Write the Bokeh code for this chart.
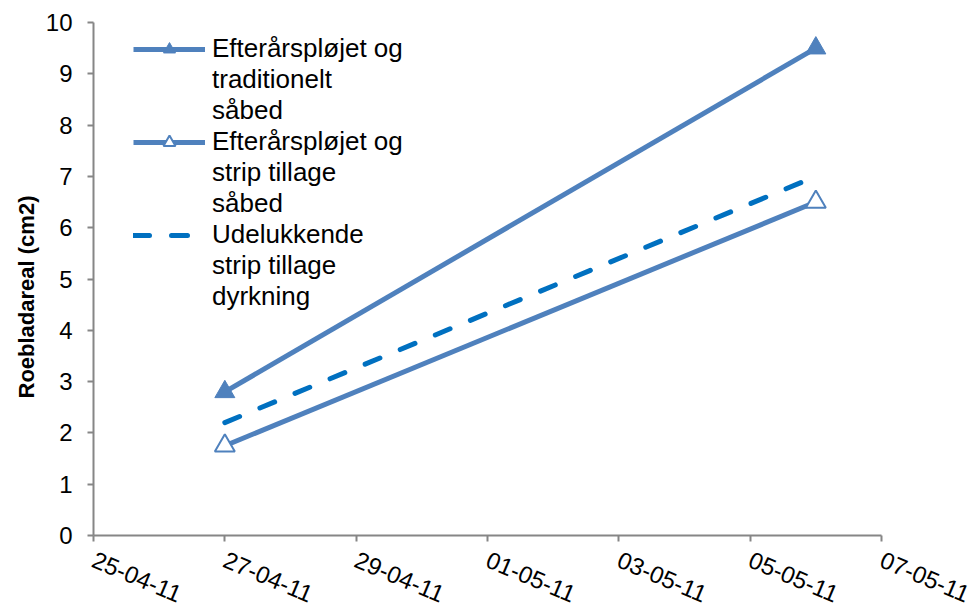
import pandas as pd
from bokeh.plotting import figure
from bokeh.models import (Range1d, FixedTicker, DatetimeTickFormatter, Legend,
                          LegendItem, Title)
from bokeh.embed import file_html
from bokeh.resources import INLINE

# Measurement dates and leaf area (cm2) per treatment
dates = ["2011-04-27", "2011-05-06"]
traditionel_saabed = [2.8, 9.5]
strip_saabed = [1.75, 6.5]
strip_dyrkning = [2.2, 7.0]

tick_dates = ["2011-04-25", "2011-04-27", "2011-04-29", "2011-05-01",
              "2011-05-03", "2011-05-05", "2011-05-07"]
y_ticks = [0, 1, 2, 3, 4, 5, 6, 7, 8, 9, 10]

series_labels = [
    ["Efterårspløjet og", "traditionelt", "såbed"],
    ["Efterårspløjet og", "strip tillage", "såbed"],
    ["Udelukkende", "strip tillage", "dyrkning"],
]

x = pd.to_datetime(dates)
tick_ms = [pd.Timestamp(d).value // 10**6 for d in tick_dates]

BLUE = "#4F81BD"
DARK_BLUE = "#0070C0"
AXIS_GREY = "#868686"
FONT = "Liberation Sans"

p = figure(width=975, height=615, x_axis_type="datetime",
           output_backend="svg", toolbar_location=None,
           x_range=Range1d(pd.Timestamp(tick_dates[0]), pd.Timestamp(tick_dates[-1])),
           y_range=Range1d(y_ticks[0], y_ticks[-1]),
           min_border_left=93, min_border_right=94,
           min_border_top=22, min_border_bottom=80)
p.outline_line_color = None
p.grid.visible = False
p.background_fill_color = "white"
p.border_fill_color = "white"

for ax in (p.xaxis[0], p.yaxis[0]):
    ax.axis_line_color = AXIS_GREY
    ax.axis_line_width = 2
    ax.major_tick_line_color = AXIS_GREY
    ax.major_tick_line_width = 2
    ax.major_tick_in = 0
    ax.major_tick_out = 6
    ax.minor_tick_line_color = None
    ax.major_label_text_font = FONT
    ax.major_label_text_font_size = "24px"
    ax.major_label_text_color = "black"

xa = p.xaxis[0]
xa.ticker = FixedTicker(ticks=tick_ms)
fmt = "%d-%m-%y"
xa.formatter = DatetimeTickFormatter(days=fmt, months=fmt, hours=fmt,
                                     years=fmt, minutes=fmt)
xa.major_label_orientation = -0.4
xa.major_label_standoff = 17

ya = p.yaxis[0]
ya.ticker = FixedTicker(ticks=y_ticks)
ya.major_label_standoff = 15

# Vertical axis title, placed left of the tick labels
p.add_layout(Title(text="Roebladareal (cm2)", align="left", offset=137,
                   text_font=FONT, text_font_style="bold",
                   text_font_size="22px", text_color="black",
                   standoff=8), "left")

# Series lines and markers
r1 = p.line(x, traditionel_saabed, line_color=BLUE, line_width=5)
r3 = p.line(x, strip_dyrkning, line_color=DARK_BLUE, line_width=5,
            line_dash="16 22", line_cap="round")
r2 = p.line(x, strip_saabed, line_color=BLUE, line_width=5)
m1 = p.scatter(x, traditionel_saabed, marker="triangle", size=20,
               fill_color=BLUE, line_color=BLUE, line_width=1)
m2 = p.scatter(x, strip_saabed, marker="triangle", size=20,
               fill_color="white", line_color=BLUE, line_width=2)

# Legend: one item per text line, glyph on the first line of each series
items = []
for renderers, lines in zip([[r1, m1], [r2, m2], [r3]], series_labels):
    items.append(LegendItem(label=lines[0], renderers=renderers))
    for extra in lines[1:]:
        items.append(LegendItem(label=extra, renderers=[]))

legend = Legend(items=items, location=(40, 223), glyph_width=72,
                glyph_height=30, label_height=30, label_standoff=7,
                spacing=0, padding=0, margin=0, border_line_color=None,
                background_fill_alpha=0, label_text_font=FONT,
                label_text_font_size="26px", label_text_color="black")
p.add_layout(legend)

open("out.html", "w").write(file_html(p, INLINE))
